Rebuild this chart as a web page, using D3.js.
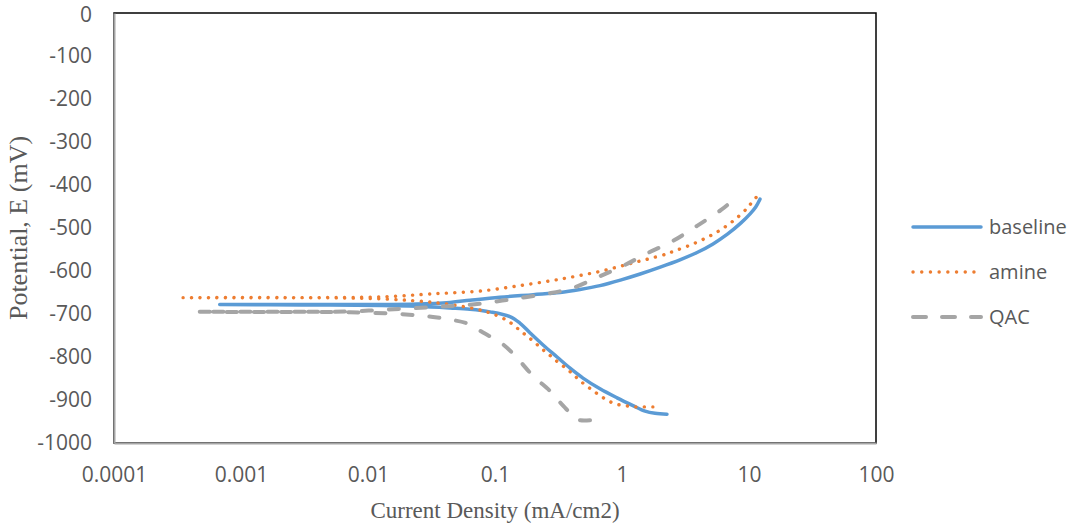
<!DOCTYPE html>
<html>
<head>
<meta charset="utf-8">
<script src="https://cdn.jsdelivr.net/npm/d3@7"></script>
<style>
  html, body { margin: 0; padding: 0; background: #fff; }
  svg { display: block; }
</style>
</head>
<body>
<svg id="chart" width="1070" height="527"></svg>
<script>
// ---- Data (current density mA/cm2, potential mV), in scan order ----
const seriesNames = ["baseline", "amine", "QAC"];

const baselineCurrent = [2.26, 1.82, 1.52, 1.22, 0.914, 0.671, 0.493, 0.39, 0.308, 0.239, 0.189, 0.157, 0.131, 0.0914, 0.0635, 0.0443, 0.0243, 0.0131, 0.003, 0.00068,
  0.003, 0.0131, 0.0243, 0.0443, 0.0635, 0.109, 0.2, 0.325, 0.467, 0.671, 1.0, 1.39, 2.0, 2.86, 3.9, 5.21, 6.72, 8.65, 10.2, 11.3, 12.2];
const baselinePotential = [-933, -931, -926, -913, -895, -874, -849, -826, -800, -772, -744, -721, -706, -695, -689, -686, -682, -680, -679, -678,
  -678, -678, -677, -673, -668, -661, -655, -650, -643, -634, -620, -607, -591, -574, -557, -537, -515, -488, -467, -451, -433];

const amineCurrent = [1.75, 1.52, 1.29, 1.11, 0.946, 0.819, 0.722, 0.636, 0.571, 0.503, 0.451, 0.411, 0.369, 0.319, 0.286, 0.257, 0.23, 0.207, 0.182, 0.163, 0.144, 0.126, 0.0964, 0.0697, 0.0349, 0.0131, 0.003, 0.00035,
  0.003, 0.0131, 0.0325, 0.0443, 0.0805, 0.149, 0.271, 0.356, 0.493, 0.671, 0.914, 1.22, 1.66, 2.26, 2.61, 3.43, 4.6, 6.0, 7.7, 9.6, 10.5, 11.6];
const aminePotential = [-916, -916, -916, -914, -911, -905, -896, -885, -875, -863, -851, -840, -828, -814, -802, -791, -779, -767, -753, -742, -729, -716, -700, -688, -674, -665, -662, -662,
  -662, -660, -653, -651, -646, -635, -623, -617, -609, -601, -591, -581, -571, -560, -553, -540, -523, -504, -481, -455, -441, -426];

const qacCurrent = [0.56, 0.47, 0.43, 0.404, 0.369, 0.308, 0.271, 0.198, 0.151, 0.116, 0.0805, 0.0602, 0.0443, 0.0325, 0.0179, 0.0072, 0.003, 0.00046,
  0.003, 0.0072, 0.0179, 0.0325, 0.053, 0.0762, 0.139, 0.257, 0.404, 0.647, 1.02, 1.6, 2.52, 3.9, 6.03, 6.72];
const qacPotential = [-947, -947, -944, -938, -923, -898, -879, -843, -804, -771, -743, -722, -713, -707, -700, -696, -695, -695,
  -695, -694, -688, -684, -680, -676, -665, -653, -640, -614, -588, -558, -530, -495, -458, -447];

const xTickValues = [0.0001, 0.001, 0.01, 0.1, 1, 10, 100];
const xTickLabels = ["0.0001", "0.001", "0.01", "0.1", "1", "10", "100"];
const yTickValues = [0, -100, -200, -300, -400, -500, -600, -700, -800, -900, -1000];
const yTickLabels = ["0", "-100", "-200", "-300", "-400", "-500", "-600", "-700", "-800", "-900", "-1000"];

const xTitle = "Current Density (mA/cm2)";
const yTitle = "Potential, E (mV)";

// ---- Layout ----
const svg = d3.select("#chart");
const plot = { left: 114, right: 876, top: 13, bottom: 443 };

const x = d3.scaleLog().domain([0.0001, 100]).range([plot.left, plot.right]);
const y = d3.scaleLinear().domain([-1000, 0]).range([plot.bottom, plot.top]);

const styles = {
  baseline: { color: "#5B9BD5", width: 3.5, dash: null, cap: "round", legendDash: null },
  amine: { color: "#ED7D31", width: 3.4, dash: "0.1 8.4", cap: "round", legendDash: "0.1 8.6" },
  QAC: { color: "#A5A5A5", width: 4, dash: "10 17", cap: "round", legendDash: "13 16" }
};

const series = [
  { name: "baseline", pts: baselineCurrent.map((c, i) => [c, baselinePotential[i]]) },
  { name: "amine", pts: amineCurrent.map((c, i) => [c, aminePotential[i]]) },
  { name: "QAC", pts: qacCurrent.map((c, i) => [c, qacPotential[i]]) }
];

// plot area border
svg.append("rect")
  .attr("x", plot.left).attr("y", plot.top)
  .attr("width", plot.right - plot.left).attr("height", plot.bottom - plot.top)
  .attr("fill", "#fff").attr("stroke", "#000").attr("stroke-width", 1.5);

// axes (d3 axes, no tick marks)
const fontTicks = "'Open Sans', 'Liberation Sans', sans-serif";
const xAxis = d3.axisBottom(x).tickValues(xTickValues)
  .tickFormat((d, i) => xTickLabels[i]).tickSize(0).tickPadding(24);
const yAxis = d3.axisLeft(y).tickValues(yTickValues)
  .tickFormat((d, i) => yTickLabels[i]).tickSize(0).tickPadding(22);

const gx = svg.append("g").attr("transform", `translate(0,${plot.bottom})`).call(xAxis);
const gy = svg.append("g").attr("transform", `translate(${plot.left},0)`).call(yAxis);
[gx, gy].forEach(g => {
  g.select(".domain").attr("stroke", "#A6A6A6").attr("stroke-width", 2);
  g.selectAll("text").attr("font-family", fontTicks).attr("font-size", 21).attr("fill", "#595959");
});
// keep the top "0" label fully inside the canvas
gy.selectAll(".tick text").filter(d => d === 0).attr("dy", "0.42em");

// series lines
const line = d3.line()
  .x(d => x(d[0])).y(d => y(d[1]))
  .curve(d3.curveCatmullRom.alpha(0.5));

series.forEach(s => {
  const st = styles[s.name];
  svg.append("path")
    .datum(s.pts)
    .attr("d", line)
    .attr("fill", "none")
    .attr("stroke", st.color)
    .attr("stroke-width", st.width)
    .attr("stroke-linecap", st.cap)
    .attr("stroke-linejoin", "round")
    .attr("stroke-dasharray", st.dash);
});

// legend
const legendY = d3.scalePoint().domain(seriesNames).range([227, 317]);
const legend = svg.append("g");
seriesNames.forEach(n => {
  const st = styles[n];
  legend.append("line")
    .attr("x1", 913).attr("x2", 981)
    .attr("y1", legendY(n)).attr("y2", legendY(n))
    .attr("stroke", st.color).attr("stroke-width", st.width)
    .attr("stroke-linecap", "round")
    .attr("stroke-dasharray", st.legendDash);
  legend.append("text")
    .attr("x", 989).attr("y", legendY(n))
    .attr("dy", "0.35em")
    .attr("font-family", fontTicks).attr("font-size", 20).attr("fill", "#595959")
    .text(n);
});

// axis titles
svg.append("text")
  .attr("x", (plot.left + plot.right) / 2).attr("y", 518)
  .attr("text-anchor", "middle")
  .attr("font-family", "'Liberation Serif', 'Times New Roman', serif")
  .attr("font-size", 23).attr("fill", "#595959")
  .text(xTitle);

svg.append("text")
  .attr("transform", `translate(27,${(plot.top + plot.bottom) / 2}) rotate(-90)`)
  .attr("text-anchor", "middle")
  .attr("font-family", "'Liberation Serif', 'Times New Roman', serif")
  .attr("font-size", 26).attr("fill", "#595959")
  .text(yTitle);
</script>
</body>
</html>
